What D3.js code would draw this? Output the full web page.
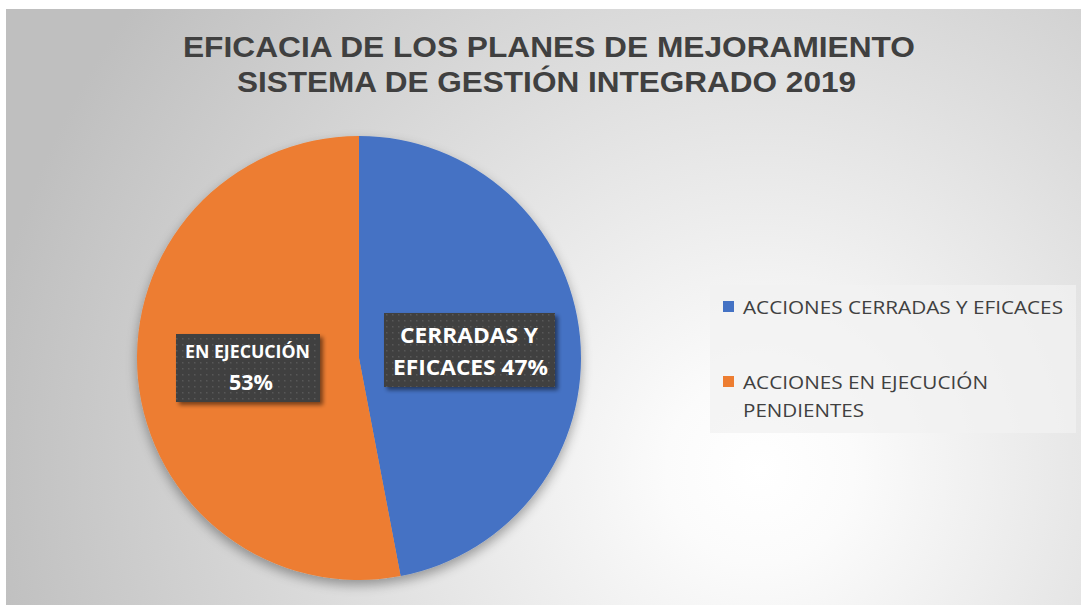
<!DOCTYPE html>
<html><head><meta charset="utf-8">
<script src="https://cdn.jsdelivr.net/npm/d3@7"></script>
<style>html,body{margin:0;padding:0;background:#fff;}svg{display:block;}</style>
</head><body>
<script>
const categories = ["ACCIONES CERRADAS Y EFICACES", "ACCIONES EN EJECUCIÓN PENDIENTES"];
const values = [47, 53];
const labelTexts = [["CERRADAS Y", "EFICACES 47%"], ["EN EJECUCIÓN", "53%"]];
const colors = ["#4472C4", "#ED7D31"];
const titleLines = ["EFICACIA DE LOS PLANES DE MEJORAMIENTO", "SISTEMA DE GESTIÓN INTEGRADO 2019"];

const W = 1081, H = 605;
const svg = d3.select("body").append("svg").attr("width", W).attr("height", H);
const defs = svg.append("defs");
const rg = defs.append("radialGradient").attr("id", "bg").attr("gradientUnits", "userSpaceOnUse")
  .attr("cx", 760).attr("cy", 470).attr("r", 780);
rg.append("stop").attr("offset", "0").attr("stop-color", "#ffffff");
rg.append("stop").attr("offset", "0.12").attr("stop-color", "#fbfbfb");
rg.append("stop").attr("offset", "1").attr("stop-color", "#bfbfbf");
const sh = defs.append("filter").attr("id", "sh").attr("x", "-20%").attr("y", "-20%").attr("width", "140%").attr("height", "140%");
sh.append("feGaussianBlur").attr("in", "SourceAlpha").attr("stdDeviation", 6);
sh.append("feOffset").attr("dx", 0).attr("dy", 5).attr("result", "b");
sh.append("feComponentTransfer").append("feFuncA").attr("type", "linear").attr("slope", 0.35);
const m = sh.append("feMerge"); m.append("feMergeNode"); m.append("feMergeNode").attr("in", "SourceGraphic");
const ls = defs.append("filter").attr("id", "ls").attr("x", "-20%").attr("y", "-20%").attr("width", "140%").attr("height", "140%");
ls.append("feGaussianBlur").attr("in", "SourceAlpha").attr("stdDeviation", 2);
ls.append("feOffset").attr("dx", 3).attr("dy", 3);
ls.append("feComponentTransfer").append("feFuncA").attr("type", "linear").attr("slope", 0.5);
const m2 = ls.append("feMerge"); m2.append("feMergeNode"); m2.append("feMergeNode").attr("in", "SourceGraphic");
const pat = defs.append("pattern").attr("id", "dots").attr("patternUnits", "userSpaceOnUse").attr("width", 6).attr("height", 6);
pat.append("rect").attr("width", 6).attr("height", 6).attr("fill", "#404040");
pat.append("rect").attr("x", 2).attr("y", 2).attr("width", 1.5).attr("height", 1.5).attr("fill", "#585858");

svg.append("rect").attr("x", 6).attr("y", 9).attr("width", W - 6).attr("height", H - 9).attr("fill", "url(#bg)");

const titleSpan = [[183, 732], [237, 619]];
svg.append("g").selectAll("text").data(titleLines).join("text")
  .attr("x", (d, i) => titleSpan[i][0]).attr("y", (d, i) => [57, 92][i])
  .attr("textLength", (d, i) => titleSpan[i][1]).attr("lengthAdjust", "spacingAndGlyphs")
  .attr("font-family", "'Liberation Sans',Arial,sans-serif")
  .attr("font-weight", "bold").attr("font-size", 29).attr("fill", "#404040").text(d => d);

const cx = 359, cy = 358, R = 222;
const pie = d3.pie().sort(null).value(d => d);
const arcs = pie(values);
const arc = d3.arc().innerRadius(0).outerRadius(R);
const g = svg.append("g").attr("transform", `translate(${cx},${cy})`);
g.append("g").attr("filter", "url(#sh)").selectAll("path").data(arcs).join("path")
  .attr("d", arc).attr("fill", (d, i) => colors[i]);

const boxes = [
  {x: 384, y: 313, w: 171, h: 74},
  {x: 176, y: 334, w: 144, h: 68}
];
const lineSpans = [[[400, 138], [393, 155]], [[185, 125], [229, 44]]];
const lineY = [[343, 375], [358, 390]];
const lineFs = [[22, 22], [18, 22]];
const lg = svg.append("g");
arcs.forEach((a, i) => {
  const b = boxes[i];
  const gg = lg.append("g");
  gg.append("rect").attr("x", b.x).attr("y", b.y).attr("width", b.w).attr("height", b.h)
    .attr("fill", "url(#dots)").attr("filter", "url(#ls)");
  gg.selectAll("text").data(labelTexts[i]).join("text")
    .attr("x", (d, j) => lineSpans[i][j][0])
    .attr("y", (d, j) => lineY[i][j])
    .attr("textLength", (d, j) => lineSpans[i][j][1]).attr("lengthAdjust", "spacingAndGlyphs")
    .attr("font-family", "'Open Sans','Noto Sans',sans-serif").attr("font-weight", "bold")
    .attr("font-size", (d, j) => lineFs[i][j])
    .attr("fill", "#ffffff").text(d => d);
});

// legend
const leg = svg.append("g");
leg.append("rect").attr("x", 710).attr("y", 285).attr("width", 366).attr("height", 148)
  .attr("fill", "#f2f2f2").attr("fill-opacity", 0.75);
const legLines = [["ACCIONES CERRADAS Y EFICACES"], ["ACCIONES EN EJECUCIÓN", "PENDIENTES"]];
const legLens = [[320], [245, 121]];
const legY = [314, 389];
categories.forEach((c, i) => {
  leg.append("rect").attr("x", 723).attr("y", legY[i] - 13).attr("width", 11).attr("height", 11).attr("fill", colors[i]);
  leg.append("g").selectAll("text").data(legLines[i]).join("text")
    .attr("x", 743).attr("y", (d, j) => legY[i] + j * 28)
    .attr("textLength", (d, j) => legLens[i][j]).attr("lengthAdjust", "spacingAndGlyphs")
    .attr("font-family", "'Open Sans','Noto Sans',sans-serif").attr("font-size", 18.5)
    .attr("fill", "#404040").text(d => d);
});
</script>
</body></html>
